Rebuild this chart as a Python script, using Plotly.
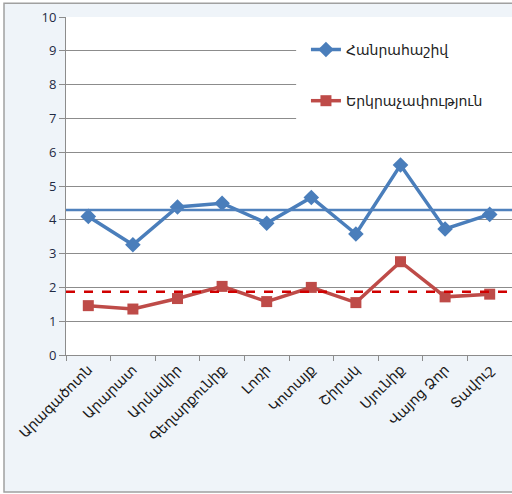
import plotly.graph_objects as go

# Armenian provinces on the x axis
regions = ["Արագածոտն", "Արարատ", "Արմավիր", "Գեղարքունիք", "Լոռի",
           "Կոտայք", "Շիրակ", "Սյունիք", "Վայոց Ձոր", "Տավուշ"]

algebra = [4.10, 3.26, 4.38, 4.49, 3.90, 4.66, 3.58, 5.62, 3.73, 4.16]
geometry = [1.46, 1.36, 1.67, 2.03, 1.58, 2.00, 1.55, 2.76, 1.72, 1.80]

algebra_avg = 4.29
geometry_avg = 1.87

names = ["Հանրահաշիվ", "Երկրաչափություն"]

BLUE = "#4A7EBB"
RED = "#BE4B48"
BG = "#EFF4F9"
GRID = "#8C8C8C"

fig = go.Figure()
fig.add_trace(go.Scatter(
    x=regions, y=algebra, name=names[0], mode="lines+markers",
    line=dict(color=BLUE, width=3.5),
    marker=dict(symbol="diamond", size=12, color=BLUE),
    legendgroup="a",
))
fig.add_trace(go.Scatter(
    x=regions, y=geometry, name=names[1], mode="lines+markers",
    line=dict(color=RED, width=3.5),
    marker=dict(symbol="square", size=11, color=RED),
    legendgroup="b",
))

# average lines across the whole plot width
fig.add_shape(type="line", xref="paper", yref="y", x0=0, x1=1,
              y0=algebra_avg, y1=algebra_avg,
              line=dict(color="#4F81BD", width=2.5))
fig.add_shape(type="line", xref="paper", yref="y", x0=0, x1=1,
              y0=geometry_avg, y1=geometry_avg,
              line=dict(color="#D00000", width=2.5, dash="dash"))

# outer chart frame (light panel with grey border, cropped on the right)
fig.add_shape(type="rect", xref="paper", yref="paper",
              x0=-0.139, x1=1.05, y0=-0.405, y1=1.041,
              fillcolor=BG, line=dict(color="#A0A0A0", width=1.5), layer="below")
fig.add_shape(type="rect", xref="paper", yref="paper",
              x0=0, x1=1, y0=0, y1=1,
              fillcolor="white", line=dict(width=0), layer="below")
# white box behind the legend hides the gridlines there
fig.add_shape(type="rect", xref="paper", yref="paper",
              x0=0.516, x1=1, y0=0.68, y1=0.96,
              fillcolor="white", line=dict(width=0))

fig.update_layout(
    width=512, height=494,
    margin=dict(l=66, r=0, t=17, b=139, autoexpand=False),
    paper_bgcolor="white",
    plot_bgcolor="white",
    font=dict(family="DejaVu Sans", color="#222222"),
    showlegend=True,
    legend=dict(
        x=0.538, y=0.95, xanchor="left", yanchor="top",
        bgcolor="white", borderwidth=0,
        font=dict(family="DejaVu Sans", size=14, color="#222222"),
        traceorder="grouped", tracegroupgap=30,
        entrywidth=170,
    ),
)

fig.update_yaxes(
    range=[0, 10], dtick=1, showgrid=True, gridcolor=GRID, gridwidth=1,
    showline=True, linecolor=GRID, linewidth=1,
    ticks="outside", ticklen=6, tickcolor=GRID,
    tickfont=dict(family="Open Sans", size=13, color="#1F2A44"),
    zeroline=False, automargin=False,
)
fig.update_xaxes(
    type="category", tickson="boundaries", showgrid=False,
    showline=True, linecolor=GRID, linewidth=1,
    ticks="outside", ticklen=5, tickcolor=GRID,
    tickangle=-45, automargin=False,
    tickfont=dict(family="DejaVu Sans", size=14, color="#1A1A1A"),
    range=[-0.5, 9.5],
)

# page has a default body margin; drop it so the figure fills the window
fig.write_html(
    "out.html",
    config={"displayModeBar": False},
    post_script="document.body.style.margin='0';document.body.style.overflow='hidden';",
)
